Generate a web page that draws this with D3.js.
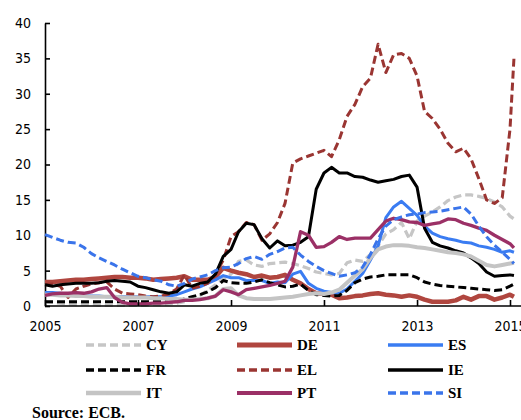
<!DOCTYPE html>
<html><head><meta charset="utf-8">
<script src="https://cdn.jsdelivr.net/npm/d3@7"></script>
<style>
html,body{margin:0;padding:0;background:#fff;overflow:hidden;}
svg{display:block;}
</style></head>
<body>
<svg id="chart" width="521" height="420"></svg>
<script>
const dates = [
"2005-01","2005-03","2005-05","2005-07","2005-09","2005-11",
"2006-01","2006-03","2006-05","2006-07","2006-09","2006-11",
"2007-01","2007-03","2007-05","2007-07","2007-09","2007-11",
"2008-01","2008-03","2008-05","2008-07","2008-09","2008-11",
"2009-01","2009-03","2009-05","2009-07","2009-09","2009-11",
"2010-01","2010-03","2010-05","2010-07","2010-09","2010-11",
"2011-01","2011-03","2011-05","2011-07","2011-09","2011-11",
"2012-01","2012-03","2012-05","2012-07","2012-09","2012-11",
"2013-01","2013-03","2013-05","2013-07","2013-09","2013-11",
"2014-01","2014-03","2014-05","2014-07","2014-09","2014-11",
"2015-01","2015-02"];

const CY = [0.6,0.5,0.4,0.3,0.2,0.2, 0.2,0.1,0.1,0.1,0.1,0.1, 0.1,0.1,0.2,0.2,0.3,0.4,
  0.6,1.0,1.5,2.2,3.0,3.8, 4.5,6.3,6.5,5.8,5.6,6.0, 6.1,6.2,6.0,5.7,5.3,4.8,
  4.6,4.4,4.6,6.1,6.5,6.3, 7.3,8.5,10.2,10.8,11.8,9.5, 12.0,12.7,13.3,14.0,14.9,15.4,
  15.7,15.7,15.5,15.2,14.7,14.0, 12.7,12.3];
const DE = [3.4,3.4,3.5,3.6,3.7,3.7, 3.8,3.9,4.0,4.1,4.1,4.0, 4.0,3.9,3.7,3.8,3.9,4.0,
  4.2,3.7,3.7,3.7,4.1,5.4, 5.0,4.7,4.5,4.1,4.3,4.0, 4.1,4.4,3.7,3.2,2.4,1.8,
  1.7,1.6,1.1,1.2,1.4,1.5, 1.7,1.8,1.6,1.5,1.3,1.5, 1.3,0.9,0.6,0.6,0.6,0.8,
  1.3,0.9,1.4,1.4,0.9,1.2, 1.6,1.3];
const ES = [1.9,1.9,1.8,1.7,1.6,1.5, 1.4,1.4,1.3,1.3,1.3,1.3, 1.3,1.3,1.3,1.3,1.4,1.6,
  2.0,2.4,2.7,3.2,3.7,4.3, 4.0,4.0,3.6,3.6,3.6,3.2, 3.4,3.3,4.5,4.9,3.2,2.5,
  2.1,1.9,1.8,2.4,3.5,4.6, 6.5,8.5,12.5,14.0,14.8,13.8, 12.8,11.3,10.3,9.8,9.5,9.3,
  9.0,8.9,8.5,8.3,8.0,7.6, 7.8,7.6];
const FR = [0.6,0.6,0.6,0.6,0.6,0.6, 0.6,0.6,0.6,0.6,0.6,0.6, 0.6,0.6,0.6,0.6,0.6,0.7,
  1.0,1.3,1.6,2.0,2.6,3.6, 3.3,3.2,3.2,3.4,3.7,3.3, 3.0,2.7,2.8,3.1,2.2,1.6,
  1.5,1.4,1.5,2.2,3.3,3.8, 4.1,4.2,4.4,4.4,4.4,4.4, 4.0,3.4,3.1,2.9,2.8,2.7,
  2.6,2.5,2.4,2.3,2.2,2.3, 2.8,3.1];
const EL = [3.0,3.1,2.8,1.2,2.4,2.8, 3.1,3.3,3.4,2.4,1.8,1.7, 1.6,1.4,1.3,1.4,1.7,2.4,
  4.4,2.5,2.8,3.2,4.5,6.5, 9.8,10.5,11.8,11.5,9.3,10.2, 11.8,14.5,20.2,20.8,21.2,21.6,
  22.0,21.1,23.5,26.8,28.5,31.0, 32.2,37.0,33.0,35.5,35.7,35.0, 32.5,27.5,26.5,25.0,23.0,21.8,
  22.3,20.8,18.0,15.0,14.5,15.3, 25.0,35.0];
const IE = [3.0,2.8,3.0,3.1,3.2,3.2, 3.2,3.3,3.5,3.6,3.5,3.4, 2.8,2.6,2.3,2.0,1.8,2.0,
  3.0,2.8,3.2,3.4,4.5,7.0, 8.0,10.5,11.7,11.5,9.5,8.2, 9.2,8.5,8.6,9.0,9.8,16.5,
  18.8,19.6,18.8,18.8,18.3,18.2, 17.8,17.5,17.7,17.9,18.3,18.5, 16.8,11.0,9.0,8.5,8.2,7.8,
  7.5,6.8,6.0,4.8,4.2,4.3, 4.4,4.3];
const IT = [1.6,1.6,1.5,1.5,1.4,1.4, 1.3,1.3,1.3,1.3,1.2,1.2, 1.2,1.2,1.1,1.1,1.0,1.0,
  0.9,0.9,1.0,1.1,1.4,2.4, 2.5,1.5,1.1,1.0,1.0,1.0, 1.1,1.2,1.3,1.5,1.7,1.8,
  1.7,1.9,2.3,3.3,4.3,5.2, 6.8,8.0,8.4,8.6,8.6,8.5, 8.3,8.2,8.0,7.8,7.6,7.5,
  7.3,7.0,6.4,5.8,5.6,5.8, 6.0,6.1];
const PT = [1.5,1.7,1.8,1.8,1.9,1.8, 2.0,2.4,2.6,1.2,0.5,0.3, 0.3,0.3,0.4,0.4,0.5,0.6,
  0.8,0.8,0.9,1.1,1.4,2.3, 2.0,1.6,2.3,2.5,2.7,2.9, 3.2,3.5,5.5,10.5,10.0,8.3,
  8.4,9.0,9.8,9.4,9.6,9.6, 9.6,10.8,12.0,12.4,12.2,11.9, 11.8,11.4,11.6,11.8,12.3,12.2,
  11.7,11.4,11.0,10.7,10.0,9.4, 8.8,8.2];
const SI = [10.1,9.7,9.3,9.0,8.9,8.3, 7.4,6.8,6.3,5.8,5.2,4.7, 4.2,4.0,3.7,3.5,3.0,2.8,
  3.2,3.8,4.1,4.4,5.0,5.4, 5.5,6.0,6.7,7.0,6.6,7.3, 7.7,8.2,8.3,7.2,6.3,5.6,
  5.0,4.6,4.2,4.4,4.7,5.5, 7.3,9.5,11.3,12.2,12.6,12.9, 13.0,13.2,13.3,13.4,13.6,13.8,
  14.0,13.0,11.3,9.8,8.6,7.6, 6.6,6.0];

const seriesNames = ["CY","DE","ES","FR","EL","IE","IT","PT","SI"];
const seriesValues = [CY,DE,ES,FR,EL,IE,IT,PT,SI];
const yTicks = [0,5,10,15,20,25,30,35,40];
const xTickYears = ["2005","2007","2009","2011","2013","2015"];

const styles = {
  CY:{color:"#c6c6c6", w:3.2, dash:"8,4"},
  DE:{color:"#b0463f", w:4.5, dash:null},
  ES:{color:"#3a7cf2", w:3, dash:null},
  FR:{color:"#000000", w:3, dash:"8,4"},
  EL:{color:"#9a3532", w:3, dash:"8,4"},
  IE:{color:"#000000", w:3, dash:null},
  IT:{color:"#c4c4c4", w:4, dash:null},
  PT:{color:"#9b3066", w:3.3, dash:null},
  SI:{color:"#3a74ea", w:3, dash:"8,4"}
};

const svg = d3.select("#chart");
const parse = d3.timeParse("%Y-%m");
const dts = dates.map(parse);

const x = d3.scaleTime().domain([parse("2005-01"), parse("2015-01")]).range([45, 510]);
const y = d3.scaleLinear().domain([0, 40]).range([306, 23]);

const tickFont = "'DejaVu Sans Condensed','DejaVu Sans',sans-serif";

// y axis
const yAxis = svg.append("g").attr("transform","translate(45,0)")
  .call(d3.axisLeft(y).tickValues(yTicks).tickSize(-5).tickPadding(14).tickSizeOuter(0));
yAxis.select(".domain").attr("stroke","#000").attr("stroke-width",1.6);
yAxis.selectAll(".tick line").attr("stroke","#000").attr("stroke-width",1.6);
yAxis.selectAll("text").attr("font-family",tickFont).attr("font-size",14).attr("fill","#000");

// lines
const line = d3.line().x((d,i)=>x(dts[i])).y(d=>y(d));
seriesNames.forEach((name,k)=>{
  const s = styles[name];
  svg.append("path").datum(seriesValues[k])
    .attr("d", line).attr("fill","none")
    .attr("stroke", s.color).attr("stroke-width", s.w)
    .attr("stroke-dasharray", s.dash)
    .attr("stroke-linejoin","round");
});

// x axis
const xAxis = svg.append("g").attr("transform","translate(0,306)")
  .call(d3.axisBottom(x).tickValues(xTickYears.map(v=>d3.timeParse("%Y")(v)))
    .tickFormat(d3.timeFormat("%Y")).tickSize(-6).tickPadding(15).tickSizeOuter(0));
xAxis.select(".domain").attr("stroke","#000").attr("stroke-width",1.6).attr("d","M45,0H521");
xAxis.selectAll(".tick line").attr("stroke","#000").attr("stroke-width",1.6);
xAxis.selectAll("text").attr("font-family",tickFont).attr("font-size",14).attr("fill","#000");

// legend
const legCols = [86, 237, 388];
const legRows = [345, 370, 393];
seriesNames.forEach((name,k)=>{
  const s = styles[name];
  const cx = legCols[k%3], cy = legRows[Math.floor(k/3)];
  svg.append("line").attr("x1",cx).attr("x2",cx+55).attr("y1",cy).attr("y2",cy)
    .attr("stroke",s.color).attr("stroke-width",s.w+0.5).attr("stroke-dasharray",s.dash);
  svg.append("text").attr("x",cx+60).attr("y",cy+5).text(name)
    .attr("font-family","'Liberation Serif','Times New Roman',serif")
    .attr("font-weight","bold").attr("font-size",15).attr("fill","#000");
});

svg.append("text").attr("x",32).attr("y",418).text("Source: ECB.")
  .attr("font-family","'Liberation Serif','Times New Roman',serif")
  .attr("font-weight","bold").attr("font-size",16).attr("fill","#000");
</script>
</body></html>
